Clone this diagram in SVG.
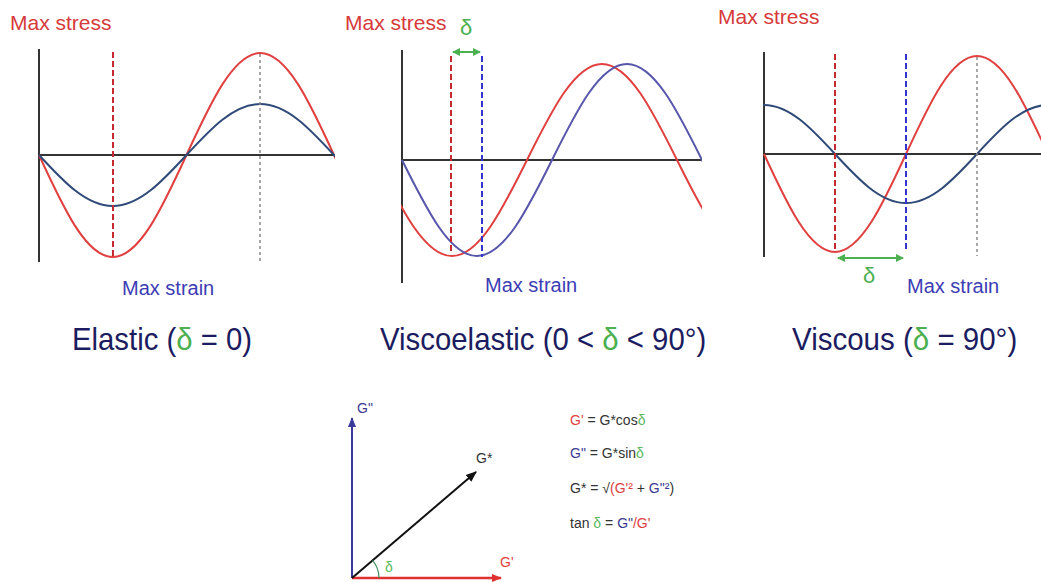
<svg xmlns="http://www.w3.org/2000/svg" xmlns:xlink="http://www.w3.org/1999/xlink" width="1041" height="582" viewBox="0 0 1041 582">
<style>
text{font-family:"Liberation Sans",Arial,sans-serif}
.axis{stroke:#333;stroke-width:2;fill:none}
.red{stroke:#e0403f;stroke-width:2;fill:none}
.blueA{stroke:#2f4a78;stroke-width:2;fill:none}
.blueB{stroke:#5656aa;stroke-width:2;fill:none}
.rdash{stroke:#c42a30;stroke-width:2;stroke-dasharray:6 3;fill:none}
.bdash{stroke:#3434cc;stroke-width:2;stroke-dasharray:6 3;fill:none}
.gdot{stroke:#8a8a8a;stroke-width:1.5;stroke-dasharray:3 3;fill:none}
.garrow{stroke:#4caf50;stroke-width:2;fill:none;marker-start:url(#ga);marker-end:url(#ga)}
.stress{fill:#d63a3a;font-size:21px}
.strain{fill:#3c3cb4;font-size:20px}
.delta{fill:#4caf50}
.title{fill:#1c1c60;font-size:32px}
.f{fill:#333;font-size:14px}
.fr{fill:#e0403f}
.fb{fill:#3a3a90}
.fg{fill:#5cb85c}
</style>
<defs>
<path id="w" vector-effect="non-scaling-stroke" d="M0,0 C0.3261,0.5123 0.6381,1 1,1 C1.3619,1 1.6739,0.5123 2,0 C2.3261,-0.5123 2.6381,-1 3,-1 C3.3619,-1 3.6739,-0.5123 4,0 C4.3261,0.5123 4.6381,1 5,1 C5.3619,1 5.6739,0.5123 6,0 C6.3261,-0.5123 6.6381,-1 7,-1 C7.3619,-1 7.6739,-0.5123 8,0"/>
<clipPath id="c1"><rect x="38" y="40" width="297" height="230"/></clipPath>
<clipPath id="c2"><rect x="401" y="40" width="301" height="240"/></clipPath>
<clipPath id="c3"><rect x="763" y="40" width="280" height="230"/></clipPath>
<marker id="ga" viewBox="0 0 8 8" refX="7" refY="4" markerWidth="8" markerHeight="8" markerUnits="userSpaceOnUse" orient="auto-start-reverse"><path d="M0,0 L8,4 L0,8 z" fill="#4caf50"/></marker>
<marker id="ab" viewBox="0 0 10 10" refX="9" refY="5" markerWidth="10" markerHeight="10" markerUnits="userSpaceOnUse" orient="auto"><path d="M0,1 L10,5 L0,9 z" fill="#3a3a9a"/></marker>
<marker id="ar" viewBox="0 0 10 10" refX="9" refY="5" markerWidth="10" markerHeight="10" markerUnits="userSpaceOnUse" orient="auto"><path d="M0,1 L10,5 L0,9 z" fill="#e03030"/></marker>
<marker id="ak" viewBox="0 0 10 10" refX="9" refY="5" markerWidth="11" markerHeight="11" markerUnits="userSpaceOnUse" orient="auto"><path d="M0,1 L10,5 L0,9 z" fill="#111"/></marker>
</defs>
<rect width="1041" height="582" fill="#fff"/>

<g id="elastic">
<line class="axis" x1="39" y1="49" x2="39" y2="262"/>
<line class="axis" x1="39" y1="155" x2="334" y2="155"/>
<g clip-path="url(#c1)">
<use xlink:href="#w" class="red" transform="translate(39,155) scale(73.75,102)"/>
<use xlink:href="#w" class="blueA" transform="translate(39,155) scale(73.75,51)"/>
</g>
<line class="rdash" x1="113" y1="52" x2="113" y2="257"/>
<line class="gdot" x1="260" y1="54" x2="260" y2="262"/>
<text class="stress" x="10" y="30">Max stress</text>
<text class="strain" x="122" y="295">Max strain</text>
<text class="title" transform="translate(72,350) scale(0.916,1)">Elastic (<tspan class="delta">δ</tspan> = 0)</text>
</g>

<g id="viscoelastic">
<line class="axis" x1="402" y1="50" x2="402" y2="283"/>
<line class="axis" x1="402" y1="160" x2="701" y2="160"/>
<g clip-path="url(#c2)">
<use xlink:href="#w" class="red" transform="translate(377,160) scale(75,96)"/>
<use xlink:href="#w" class="blueB" transform="translate(402,160) scale(75,96)"/>
</g>
<line class="rdash" x1="451" y1="56" x2="451" y2="253"/>
<line class="bdash" x1="482" y1="56" x2="482" y2="257"/>
<line class="garrow" x1="453" y1="52" x2="480" y2="52"/>
<text class="delta" x="466" y="35" font-size="22" text-anchor="middle">δ</text>
<text class="stress" x="345" y="30">Max stress</text>
<text class="strain" x="485" y="292">Max strain</text>
<text class="title" transform="translate(380,350) scale(0.918,1)">Viscoelastic (0 &lt; <tspan class="delta">δ</tspan> &lt; 90°)</text>
</g>

<g id="viscous">
<line class="axis" x1="764" y1="52" x2="764" y2="257"/>
<line class="axis" x1="764" y1="154" x2="1041" y2="154"/>
<g clip-path="url(#c3)">
<use xlink:href="#w" class="red" transform="translate(764,154) scale(71,98)"/>
<use xlink:href="#w" class="blueA" transform="translate(551,154) scale(71,49)"/>
</g>
<line class="rdash" x1="835" y1="54" x2="835" y2="252"/>
<line class="bdash" x1="906" y1="54" x2="906" y2="252"/>
<line class="gdot" x1="977" y1="57" x2="977" y2="256"/>
<line class="garrow" x1="838" y1="258" x2="903" y2="258"/>
<text class="delta" x="869" y="283" font-size="22" text-anchor="middle">δ</text>
<text class="stress" x="718" y="24">Max stress</text>
<text class="strain" x="907" y="293">Max strain</text>
<text class="title" transform="translate(792,350) scale(0.922,1)">Viscous (<tspan class="delta">δ</tspan> = 90°)</text>
</g>

<g id="vector-diagram">
<g id="connectors">
<line x1="352" y1="578" x2="352" y2="418" stroke="#3a3a9a" stroke-width="2" marker-end="url(#ab)"/>
<line x1="352" y1="578" x2="501" y2="578" stroke="#e03030" stroke-width="2.5" marker-end="url(#ar)"/>
<line x1="352" y1="578" x2="476" y2="472" stroke="#111" stroke-width="2" marker-end="url(#ak)"/>
<path d="M379,578 A27,27 0 0 0 372.5,560.4" fill="none" stroke="#3f8f5f" stroke-width="1.2"/>
</g>
<text class="f fb" x="357" y="413" font-size="13">G"</text>
<text class="f" x="476" y="463" font-size="13" fill="#111">G*</text>
<text class="f fr" x="500" y="567" font-size="13">G'</text>
<text class="f fg" x="385" y="572" font-size="13">δ</text>
</g>

<g id="formulas">
<text class="f" x="570" y="425"><tspan class="fr">G'</tspan> = G*cos<tspan class="fg">δ</tspan></text>
<text class="f" x="570" y="458"><tspan class="fb">G"</tspan> = G*sin<tspan class="fg">δ</tspan></text>
<text class="f" x="570" y="493">G* = √<tspan class="fr">(G'²</tspan> + <tspan class="fb">G"²</tspan>)</text>
<text class="f" x="570" y="528">tan <tspan class="fg">δ</tspan> = <tspan class="fb">G"</tspan><tspan class="fr">/G'</tspan></text>
</g>
</svg>
